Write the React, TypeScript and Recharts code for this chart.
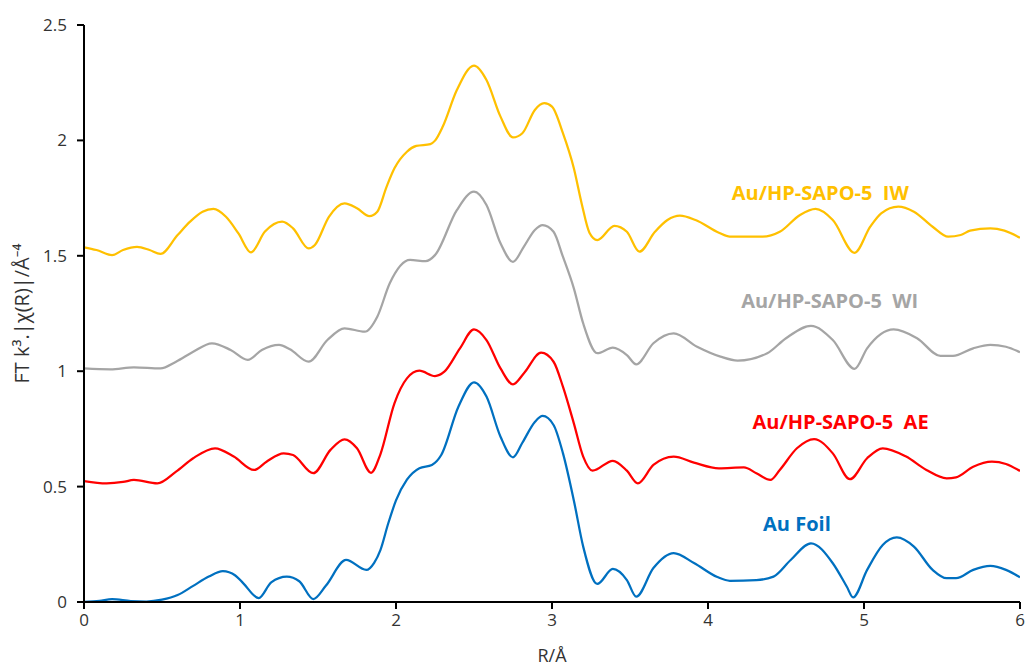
import React from 'react';
import { LineChart, Line, XAxis, YAxis, ReferenceDot } from 'recharts';

// ---- Au Foil ----
const foilR = [0, 0.1, 0.18, 0.3, 0.4, 0.5, 0.6, 0.7, 0.8, 0.89, 0.97, 1.02, 1.12, 1.2, 1.3, 1.38, 1.47, 1.55, 1.68, 1.81, 1.86, 1.9, 1.95, 2.0, 2.07, 2.15, 2.23, 2.29, 2.4, 2.5, 2.58, 2.67, 2.75, 2.81, 2.89, 2.94, 3.01, 3.07, 3.14, 3.2, 3.29, 3.39, 3.48, 3.54, 3.65, 3.78, 3.91, 4.06, 4.14, 4.31, 4.42, 4.53, 4.66, 4.8, 4.89, 4.93, 5.02, 5.12, 5.21, 5.32, 5.44, 5.53, 5.59, 5.7, 5.81, 5.91, 6.0];
const foilV = [0.0, 0.005, 0.012, 0.004, 0.002, 0.01, 0.03, 0.07, 0.11, 0.134, 0.115, 0.082, 0.017, 0.085, 0.11, 0.09, 0.013, 0.07, 0.182, 0.139, 0.17, 0.225, 0.34, 0.44, 0.53, 0.58, 0.594, 0.637, 0.846, 0.952, 0.89, 0.716, 0.627, 0.69, 0.78, 0.806, 0.767, 0.645, 0.44, 0.24, 0.078, 0.143, 0.095, 0.023, 0.147, 0.212, 0.169, 0.108, 0.092, 0.095, 0.11, 0.182, 0.254, 0.168, 0.066, 0.02, 0.139, 0.247, 0.28, 0.24, 0.139, 0.103, 0.103, 0.139, 0.156, 0.139, 0.107];

// ---- Au/HP-SAPO-5 AE ----
const aeR = [0, 0.145, 0.25, 0.32, 0.47, 0.59, 0.7, 0.84, 0.96, 1.09, 1.17, 1.28, 1.34, 1.47, 1.58, 1.67, 1.75, 1.84, 1.9, 1.99, 2.07, 2.15, 2.25, 2.31, 2.41, 2.5, 2.58, 2.67, 2.75, 2.82, 2.93, 3.01, 3.07, 3.14, 3.2, 3.26, 3.39, 3.48, 3.55, 3.65, 3.78, 3.91, 4.07, 4.23, 4.31, 4.4, 4.46, 4.57, 4.68, 4.8, 4.91, 5.02, 5.12, 5.27, 5.4, 5.53, 5.59, 5.7, 5.82, 5.91, 6.0];
const aeV = [0.524, 0.514, 0.52, 0.529, 0.514, 0.565, 0.623, 0.666, 0.63, 0.572, 0.608, 0.644, 0.637, 0.558, 0.659, 0.705, 0.666, 0.56, 0.64, 0.861, 0.969, 1.002, 0.979, 0.998, 1.099, 1.181, 1.135, 1.012, 0.943, 0.991, 1.08, 1.041, 0.933, 0.774, 0.63, 0.569, 0.612, 0.569, 0.514, 0.594, 0.63, 0.604, 0.579, 0.583, 0.558, 0.529, 0.572, 0.666, 0.706, 0.644, 0.532, 0.623, 0.666, 0.63, 0.572, 0.536, 0.54, 0.586, 0.608, 0.598, 0.568];

// ---- Au/HP-SAPO-5 WI ----
const wiR = [0, 0.17, 0.32, 0.49, 0.59, 0.7, 0.82, 0.94, 1.05, 1.14, 1.25, 1.32, 1.44, 1.56, 1.67, 1.8, 1.88, 1.96, 2.09, 2.19, 2.25, 2.39, 2.5, 2.58, 2.67, 2.75, 2.82, 2.89, 2.94, 3.01, 3.07, 3.14, 3.2, 3.29, 3.39, 3.48, 3.54, 3.65, 3.78, 3.93, 4.08, 4.19, 4.38, 4.5, 4.66, 4.8, 4.94, 5.02, 5.19, 5.34, 5.49, 5.57, 5.7, 5.81, 5.91, 6.0];
const wiV = [1.012, 1.008, 1.017, 1.012, 1.041, 1.084, 1.121, 1.092, 1.049, 1.092, 1.114, 1.095, 1.041, 1.135, 1.186, 1.171, 1.236, 1.381, 1.482, 1.477, 1.503, 1.698, 1.778, 1.72, 1.554, 1.474, 1.54, 1.612, 1.633, 1.604, 1.496, 1.359, 1.207, 1.078, 1.102, 1.07, 1.03, 1.121, 1.164, 1.106, 1.063, 1.046, 1.078, 1.143, 1.196, 1.135, 1.01, 1.099, 1.181, 1.143, 1.066, 1.066, 1.099, 1.114, 1.106, 1.082];

// ---- Au/HP-SAPO-5 IW ----
const iwR = [0, 0.08, 0.18, 0.25, 0.34, 0.42, 0.49, 0.6, 0.68, 0.76, 0.83, 0.91, 0.99, 1.07, 1.16, 1.27, 1.34, 1.44, 1.48, 1.57, 1.67, 1.75, 1.83, 1.88, 1.94, 1.99, 2.07, 2.13, 2.22, 2.25, 2.3, 2.39, 2.5, 2.58, 2.67, 2.75, 2.81, 2.89, 2.95, 3.0, 3.07, 3.14, 3.19, 3.24, 3.29, 3.4, 3.48, 3.56, 3.66, 3.74, 3.82, 3.92, 4.07, 4.14, 4.35, 4.46, 4.59, 4.69, 4.8, 4.94, 5.04, 5.11, 5.22, 5.32, 5.44, 5.54, 5.62, 5.68, 5.81, 5.9, 6.0];
const iwV = [1.537, 1.525, 1.503, 1.525, 1.539, 1.525, 1.508, 1.59, 1.648, 1.691, 1.703, 1.669, 1.597, 1.515, 1.605, 1.648, 1.619, 1.532, 1.547, 1.669, 1.727, 1.706, 1.672, 1.691, 1.8, 1.879, 1.951, 1.976, 1.984, 1.999, 2.06, 2.218, 2.324, 2.262, 2.103, 2.013, 2.031, 2.132, 2.161, 2.146, 2.031, 1.879, 1.727, 1.6, 1.568, 1.63, 1.604, 1.518, 1.604, 1.655, 1.674, 1.655, 1.6, 1.583, 1.583, 1.604, 1.677, 1.703, 1.655, 1.513, 1.626, 1.684, 1.713, 1.691, 1.626, 1.583, 1.59, 1.609, 1.619, 1.609, 1.578];

const xTicks = [0, 1, 2, 3, 4, 5, 6];
const yTicks = [0, 0.5, 1, 1.5, 2, 2.5];

const seriesNames = ['Au Foil', 'Au/HP-SAPO-5  AE', 'Au/HP-SAPO-5  WI', 'Au/HP-SAPO-5  IW'];
const seriesColors = ['#0070C0', '#FF0000', '#A5A5A5', '#FFC000'];
const labelR = [4.57, 4.85, 4.78, 4.72];
const labelV = [0.342, 0.78, 1.308, 1.776];

const build = (rs: number[], vs: number[]) => rs.map((r, i) => ({ r, v: vs[i] }));
const seriesData = [build(foilR, foilV), build(aeR, aeV), build(wiR, wiV), build(iwR, iwV)];

const FONT = '"Open Sans", "Noto Sans", sans-serif';
const AXIS = '#000000';
const TICKCOL = '#333333';

export default function App() {
  return (
    <div style={{ position: 'absolute', left: 0, top: 0, width: 1027, height: 671, background: '#fff' }}>
      <LineChart width={1027} height={671} margin={{ top: 25, right: 7, left: 0, bottom: 0 }} style={{ overflow: 'visible' }}>
        <XAxis
          type="number"
          dataKey="r"
          domain={[0, 6]}
          ticks={xTicks}
          allowDataOverflow
          height={69}
          stroke={AXIS}
          strokeWidth={2}
          tickSize={7}
          tickMargin={5}
          tick={{ fill: TICKCOL, fontSize: 17, fontFamily: FONT }}
          label={{ value: 'R/Å', position: 'insideBottom', offset: 9, fill: TICKCOL, fontSize: 18, fontFamily: FONT }}
        />
        <YAxis
          type="number"
          dataKey="v"
          domain={[0, 2.5]}
          ticks={yTicks}
          width={84}
          stroke={AXIS}
          strokeWidth={2}
          tickSize={7}
          tickMargin={10}
          tick={{ fill: TICKCOL, fontSize: 17, fontFamily: FONT }}
          label={{
            value: 'FT k³.|χ(R)|/Å⁻⁴',
            angle: -90,
            position: 'insideLeft',
            offset: 22,
            fill: TICKCOL,
            fontSize: 20,
            fontFamily: FONT,
            style: { textAnchor: 'middle' },
          }}
        />
        {seriesData.map((d, i) => (
          <Line
            key={seriesNames[i]}
            data={d}
            dataKey="v"
            name={seriesNames[i]}
            type="monotone"
            stroke={seriesColors[i]}
            strokeWidth={2.25}
            dot={false}
            activeDot={false}
            isAnimationActive={false}
          />
        ))}
        {seriesNames.map((n, i) => (
          <ReferenceDot
            key={'lbl' + i}
            x={labelR[i]}
            y={labelV[i]}
            r={0}
            shape={(p: any) => (
              <text
                x={p.cx}
                y={p.cy}
                textAnchor="middle"
                dominantBaseline="central"
                fill={seriesColors[i]}
                fontSize={20}
                fontWeight={700}
                fontFamily={FONT}
                style={{ whiteSpace: 'pre' }}
              >
                {n}
              </text>
            )}
          />
        ))}
      </LineChart>
    </div>
  );
}
